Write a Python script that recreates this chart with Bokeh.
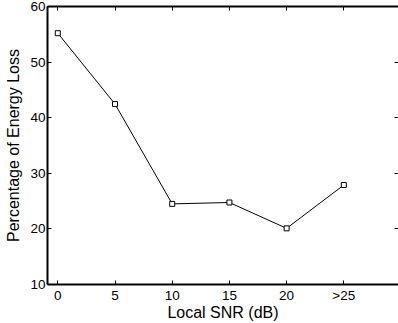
from bokeh.plotting import figure
from bokeh.models import LinearAxis, FixedTicker, Range1d
from bokeh.embed import file_html
from bokeh.resources import INLINE

snr_x = [0, 5, 10, 15, 20, 25]
snr_labels = ["0", "5", "10", "15", "20", ">25"]
energy_loss = [55.2, 42.45, 24.5, 24.75, 20.1, 27.9]
y_ticks = [10, 20, 30, 40, 50, 60]

FONT = "Liberation Sans"

p = figure(width=398, height=323, output_backend="svg", toolbar_location=None,
           x_range=Range1d(-0.90, 29.78), y_range=Range1d(10, 60),
           x_axis_location=None, y_axis_location=None,
           min_border_left=47, min_border_right=0, min_border_top=6, min_border_bottom=37)
p.outline_line_color = None
p.grid.visible = False
p.background_fill_color = "white"
p.border_fill_color = "white"

def style(ax, labels=True, line=True):
    ax.major_tick_in = 4
    ax.major_tick_out = 0
    ax.minor_tick_line_color = None
    ax.axis_line_width = 2 if line else 1
    ax.axis_line_color = "black" if line else None
    ax.major_tick_line_color = "black"
    ax.major_label_text_font = FONT
    ax.major_label_text_font_size = "13.5px"
    ax.major_label_text_color = "black"
    ax.axis_label_text_font = FONT
    ax.axis_label_text_font_size = "16px"
    ax.axis_label_text_font_style = "normal"
    ax.axis_label_text_color = "black"
    if not labels:
        ax.major_label_text_font_size = "0px"
        ax.major_label_text_color = None
        ax.major_label_standoff = 0
        ax.axis_label_standoff = 0

xb = LinearAxis(ticker=FixedTicker(ticks=snr_x), axis_label="Local SNR (dB)")
xb.major_label_overrides = {x: l for x, l in zip(snr_x, snr_labels)}
style(xb)
xb.major_label_standoff = 3
xb.axis_label_standoff = -2
p.add_layout(xb, "below")

yl = LinearAxis(ticker=FixedTicker(ticks=y_ticks), axis_label="Percentage of Energy Loss")
style(yl)
yl.major_label_standoff = 2
yl.axis_label_standoff = 5
p.add_layout(yl, "left")

xt = LinearAxis(ticker=FixedTicker(ticks=snr_x))
style(xt, labels=False)
p.add_layout(xt, "above")

yr = LinearAxis(ticker=FixedTicker(ticks=y_ticks))
style(yr, labels=False, line=False)
p.add_layout(yr, "right")

p.line(snr_x, energy_loss, line_color="black", line_width=1)
p.scatter(snr_x, energy_loss, marker="square", size=5, fill_color="white",
          line_color="black", line_width=1)

open("out.html", "w").write(file_html(p, INLINE))
